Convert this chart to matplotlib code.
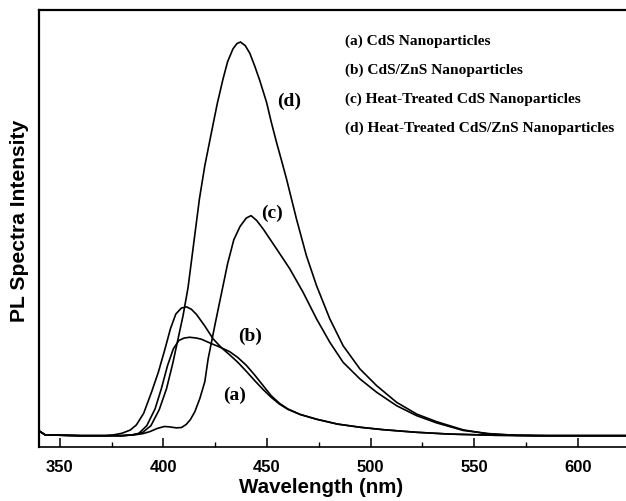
import matplotlib
matplotlib.use("Agg")
import matplotlib.pyplot as plt
from matplotlib.ticker import MultipleLocator

# PL spectra (wavelength in nm, intensity in a.u.)
wl_a = [340, 343, 360, 372, 376, 380, 384, 387, 390.5, 394.3, 397.6, 400.8, 403.4, 406,
        408.7, 411.2, 413.5, 416, 420, 424, 428, 432, 436, 440, 444, 448, 452, 456, 460,
        466, 474, 484, 495, 506, 522, 538, 560, 580, 623]
int_a = [1.2, 0.2, 0, 0, 0.2, 0.6, 1.4, 2.7, 5.6, 10.9, 15.9, 21.7, 26.7, 30.4,
         31.9, 32.2, 31.6, 30.3, 27.4, 24.2, 22.0, 20.2, 18.3, 16.1, 13.8, 11.6, 9.6, 7.9, 6.6,
         5.3, 4.1, 2.9, 2.1, 1.5, 0.85, 0.4, 0.1, 0, 0]

wl_b = [340, 343, 360, 380, 385, 388, 392, 396, 399, 402, 404.8, 407.5, 410, 412.7, 416,
        418.4, 423.2, 427, 432, 436, 440, 444, 448, 452, 456, 460, 466, 474, 484, 495, 506,
        522, 538, 560, 580, 623]
int_b = [1.2, 0.2, 0, 0, 0.2, 0.5, 2.5, 6.7, 11.7, 17.5, 21.7, 23.8, 24.4, 24.6, 24.4,
         24.1, 23.0, 22.2, 21.0, 19.5, 17.6, 15.2, 12.6, 10.0, 8.1, 6.7, 5.3, 4.1, 2.9, 2.1, 1.5,
         0.85, 0.4, 0.1, 0, 0]

wl_c = [340, 343, 360, 380, 386, 390, 393.4, 397, 400.5, 403, 406.3, 408.8, 411, 413, 415.2,
        417.6, 420, 421.6, 425, 428, 431, 434, 437, 440, 442.3, 445, 448.1, 454.6, 461, 467.4,
        473.9, 480.3, 486.7, 494.8, 502.9, 512.5, 522.2, 531.8, 544.7, 557.5, 570, 585, 623]
int_c = [1.2, 0.2, 0, 0, 0.2, 0.5, 1.0, 1.8, 2.3, 2.2, 1.95, 2.05, 2.8, 4.0, 6.0,
         9.3, 13.5, 19.2, 28, 35.5, 43, 49, 52.3, 54.4, 55, 53.8, 51.7, 46.7, 41.7, 35.85,
         29.2, 23.35, 18.35, 14.2, 10.85, 7.5, 5.0, 3.2, 1.3, 0.5, 0.1, 0, 0]

wl_d = [340, 343, 360, 380, 385, 390, 394, 398, 401.5, 404.5, 407, 409.5, 411.9, 414.3,
        417.4, 420, 423.2, 426, 428.8, 431, 433.6, 435.5, 437.2, 439.5, 441.7, 444, 446.5,
        449.8, 452, 454.6, 457, 459.4, 464.2, 469, 473.9, 480.3, 486.7, 494.8, 502.9, 512.5,
        522.2, 531.8, 544.7, 557, 570, 585, 623]
int_d = [1.2, 0.2, 0, 0, 0.2, 0.8, 2.5, 6.5, 11.7, 18, 24, 30, 37, 46.7,
         59.2, 67.5, 75.8, 83, 89.2, 93.5, 96.7, 98, 98.4, 97.5, 95.6, 92.5, 88.8,
         83.3, 78.5, 73.3, 68.8, 64.2, 54.2, 45, 37.5, 29.2, 22.5, 16.7, 12.5, 8.35,
         5.4, 3.5, 1.45, 0.4, 0.1, 0, 0]

curve_tags = ["(a)", "(b)", "(c)", "(d)"]
tag_x = [434.5, 442, 452.6, 460.7]
tag_y = [10.4, 25, 55.85, 83.75]
legend_lines = ["(a) CdS Nanoparticles",
                "(b) CdS/ZnS Nanoparticles",
                "(c) Heat-Treated CdS Nanoparticles",
                "(d) Heat-Treated CdS/ZnS Nanoparticles"]

fig = plt.figure(figsize=(6.26, 5.02), dpi=100)
ax = fig.add_axes([39 / 626, 1 - 448 / 502, 587 / 626, 437 / 502])

for wl, inten in [(wl_a, int_a), (wl_b, int_b), (wl_c, int_c), (wl_d, int_d)]:
    ax.plot(wl, inten, color="black", lw=1.2)

ax.set_xlim(340, 623.2)
ax.set_ylim(-2.83, 106.4)

for t, x, y in zip(curve_tags, tag_x, tag_y):
    ax.text(x, y, t, family="Liberation Serif", weight="bold", fontsize=14,
            ha="center", va="center")

# legend text block (plain text, no handles)
for i, s in enumerate(legend_lines):
    fig.text(345 / 626, 1 - (41.7 + i * 28.9) / 502, s, family="Liberation Serif",
             weight="bold", fontsize=11.1, ha="left", va="center")

ax.spines["right"].set_visible(False)
ax.spines["left"].set_linewidth(1.6)
ax.spines["top"].set_linewidth(1.6)
ax.spines["bottom"].set_linewidth(1.2)

ax.xaxis.set_major_locator(MultipleLocator(50))
ax.xaxis.set_minor_locator(MultipleLocator(25))
ax.tick_params(axis="x", which="major", direction="in", length=6.5, width=1.1, pad=8.5,
               labelsize=12)
ax.tick_params(axis="x", which="minor", direction="in", length=3.6, width=1.0)
ax.set_yticks([])
for lab in ax.get_xticklabels():
    lab.set_family("Liberation Sans")
    lab.set_fontweight("bold")

ax.set_xlabel("Wavelength (nm)", family="Liberation Sans", weight="bold", fontsize=14.8,
              va="center")
ax.xaxis.set_label_coords((321 - 39) / 587, (448 - 488) / 437)
ax.set_ylabel("PL Spectra Intensity", family="Liberation Sans", weight="bold",
              fontsize=15.2, va="center")
ax.yaxis.set_label_coords((20 - 39) / 587, (448 - 221) / 437)

fig.savefig("out.png", dpi=100)
